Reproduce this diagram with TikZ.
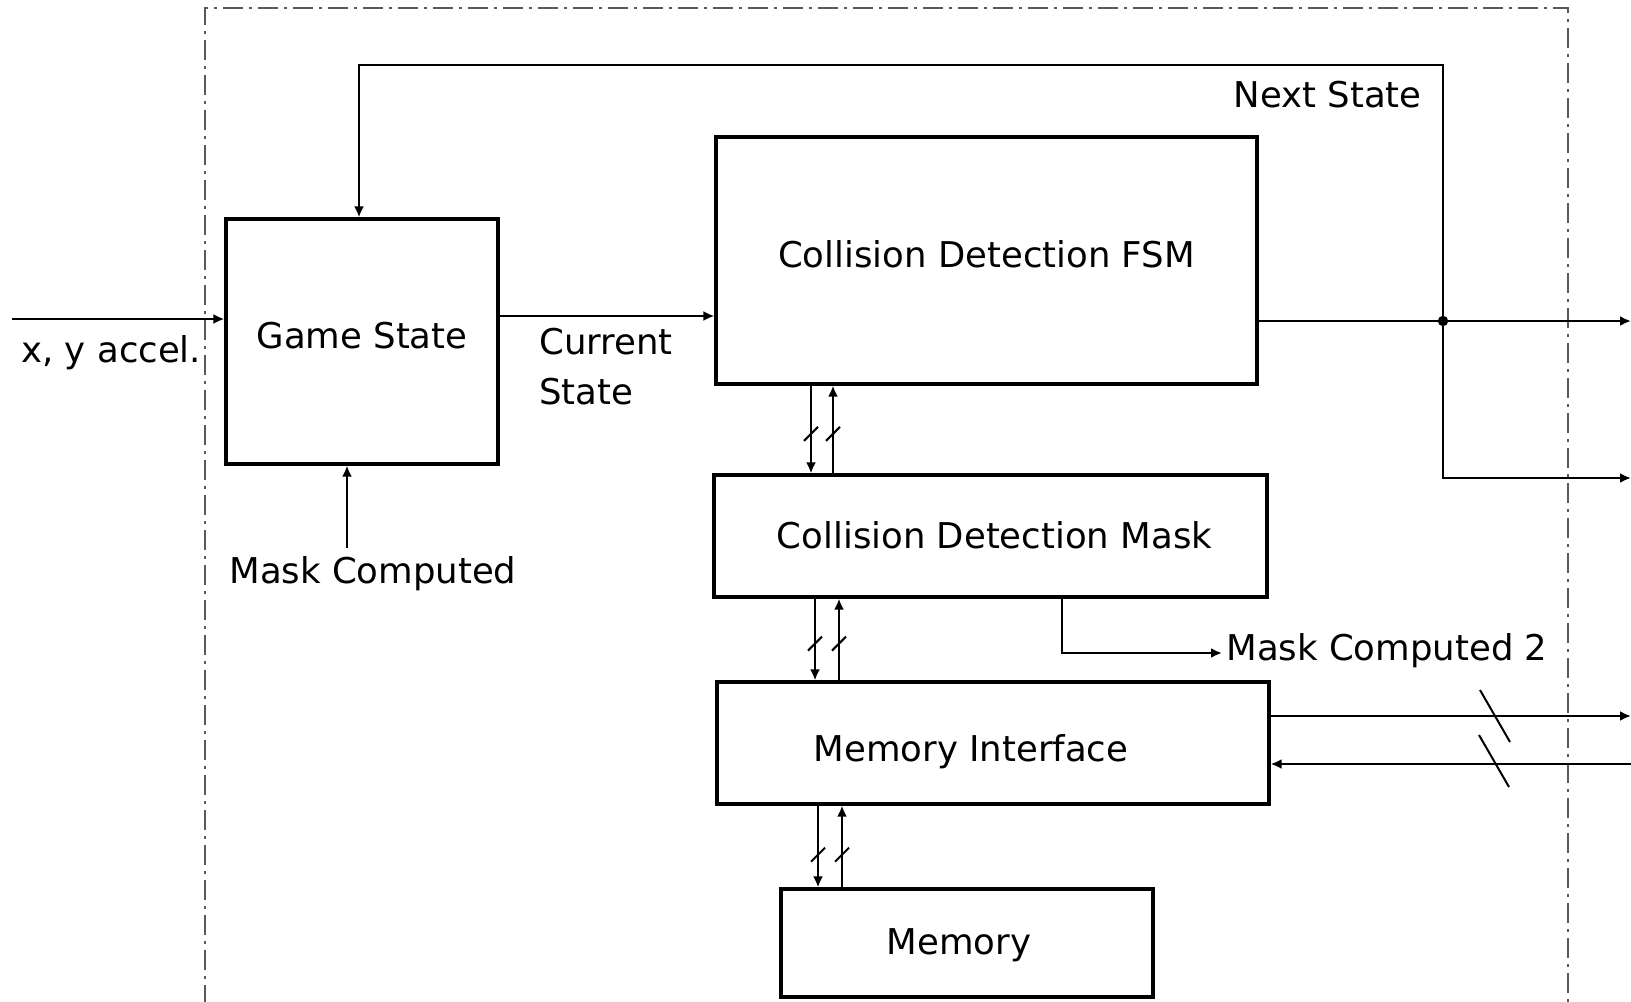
\documentclass[tikz,border=0pt]{standalone}
\usepackage{fontspec}
\setmainfont{DejaVu Sans}
\usetikzlibrary{arrows.meta,calc}
\begin{document}
\begin{tikzpicture}[x=0.5pt,y=-0.5pt,
  every node/.style={font=\fontsize{17.75}{25}\selectfont, inner sep=0pt},
  box/.style={draw, line width=1.6pt, text height=0.73em, text depth=0pt},
  lbl/.style={text height=0.73em, text depth=0pt},
  con/.style={line width=1.3pt},
  arr/.style={con, -{Latex[length=5.5pt,width=5pt]}},
  bus/.style={line width=1pt},
  frame/.style={draw=black!65, line width=1pt, dash pattern=on 10pt off 3pt on 1.5pt off 3pt}]
\useasboundingbox (0,0) rectangle (1631,1001);
\clip (0,0) rectangle (1631,1001);
% frame
\draw[frame] (205,1040) -- (205,8) -- (1568,8) -- (1568,1040);
% boxes
\node[box, minimum width=136pt, minimum height=122.5pt] (gs) at (362,341.5) {Game State};
\node[box, minimum width=270.5pt, minimum height=123.5pt] (fsm) at (986.5,260.5) {Collision Detection FSM};
\node[box, minimum width=276.5pt, minimum height=61pt,
  label={[lbl, xshift=2pt, yshift=-2.75pt]center:Collision Detection Mask}] (mask) at (990.5,536) {};
\node[box, minimum width=276pt, minimum height=61pt,
  label={[lbl, xshift=-11pt, yshift=-5.75pt]center:Memory Interface}] (mi) at (993,743) {};
\node[box, minimum width=186pt, minimum height=54pt,
  label={[lbl, xshift=-4pt, yshift=-2pt]center:Memory}] (mem) at (967,943) {};
% labels
\node[lbl, anchor=west] (xy) at (21,355) {x, y accel.};
\node[anchor=west, align=left] (cs) at (539,367) {Current\\State};
\node[lbl, anchor=west] (mcl) at (229,576) {Mask Computed};
\node[lbl, anchor=east] (ns) at (1422,100) {Next State};
\node[lbl, anchor=west] (mc2) at (1226,653) {Mask Computed 2};
% input
\coordinate (in) at (12,319);
\draw[arr] (in) -- (in -| gs.west);
% current state
\draw[arr] (gs.east |- 0,316) -- (fsm.west |- 0,316);
% mask computed
\draw[arr] ([yshift=10pt]mcl.north -| 347,0) -- (gs.south -| 347,0);
% fsm output and next state
\coordinate (j) at (1443,321);
\draw[con] (fsm.east |- j) -- (j);
\draw[arr] (j) -- (1631,321);
\draw[arr] (j) |- (1631,478);
\draw[arr] (j) -- (j |- 0,65) -| (gs.north -| 359,0);
\fill (j) circle (2.6pt);
% buses fsm <-> mask
\draw[arr] (fsm.south -| 811,0) -- coordinate[pos=0.55] (t1) (mask.north -| 811,0);
\draw[arr] (mask.north -| 833,0) -- coordinate[pos=0.45] (t2) (fsm.south -| 833,0);
\draw[bus] ($(t1)+(-7,7)$) -- ($(t1)+(7,-7)$);
\draw[bus] ($(t2)+(-7,7)$) -- ($(t2)+(7,-7)$);
% buses mask <-> mi
\draw[arr] (mask.south -| 815,0) -- coordinate[pos=0.55] (t3) (mi.north -| 815,0);
\draw[arr] (mi.north -| 839,0) -- coordinate[pos=0.45] (t4) (mask.south -| 839,0);
\draw[bus] ($(t3)+(-7,7)$) -- ($(t3)+(7,-7)$);
\draw[bus] ($(t4)+(-7,7)$) -- ($(t4)+(7,-7)$);
% buses mi <-> mem
\draw[arr] (mi.south -| 818,0) -- coordinate[pos=0.6] (t5) (mem.north -| 818,0);
\draw[arr] (mem.north -| 842,0) -- coordinate[pos=0.4] (t6) (mi.south -| 842,0);
\draw[bus] ($(t5)+(-7,7)$) -- ($(t5)+(7,-7)$);
\draw[bus] ($(t6)+(-7,7)$) -- ($(t6)+(7,-7)$);
% mask computed 2
\draw[arr] (mask.south -| 1062,0) |- ([xshift=-2pt]mc2.west);
% memory interface external buses
\draw[arr] (mi.east |- 0,716) -- (1631,716);
\draw[arr] (1631,764) -- (mi.east |- 0,764);
\coordinate (s1) at (1495,716);
\coordinate (s2) at (1494,761);
\draw[bus] ($(s1)+(-15,-26)$) -- ($(s1)+(15,26)$);
\draw[bus] ($(s2)+(-15,-26)$) -- ($(s2)+(15,26)$);
\end{tikzpicture}
\end{document}
